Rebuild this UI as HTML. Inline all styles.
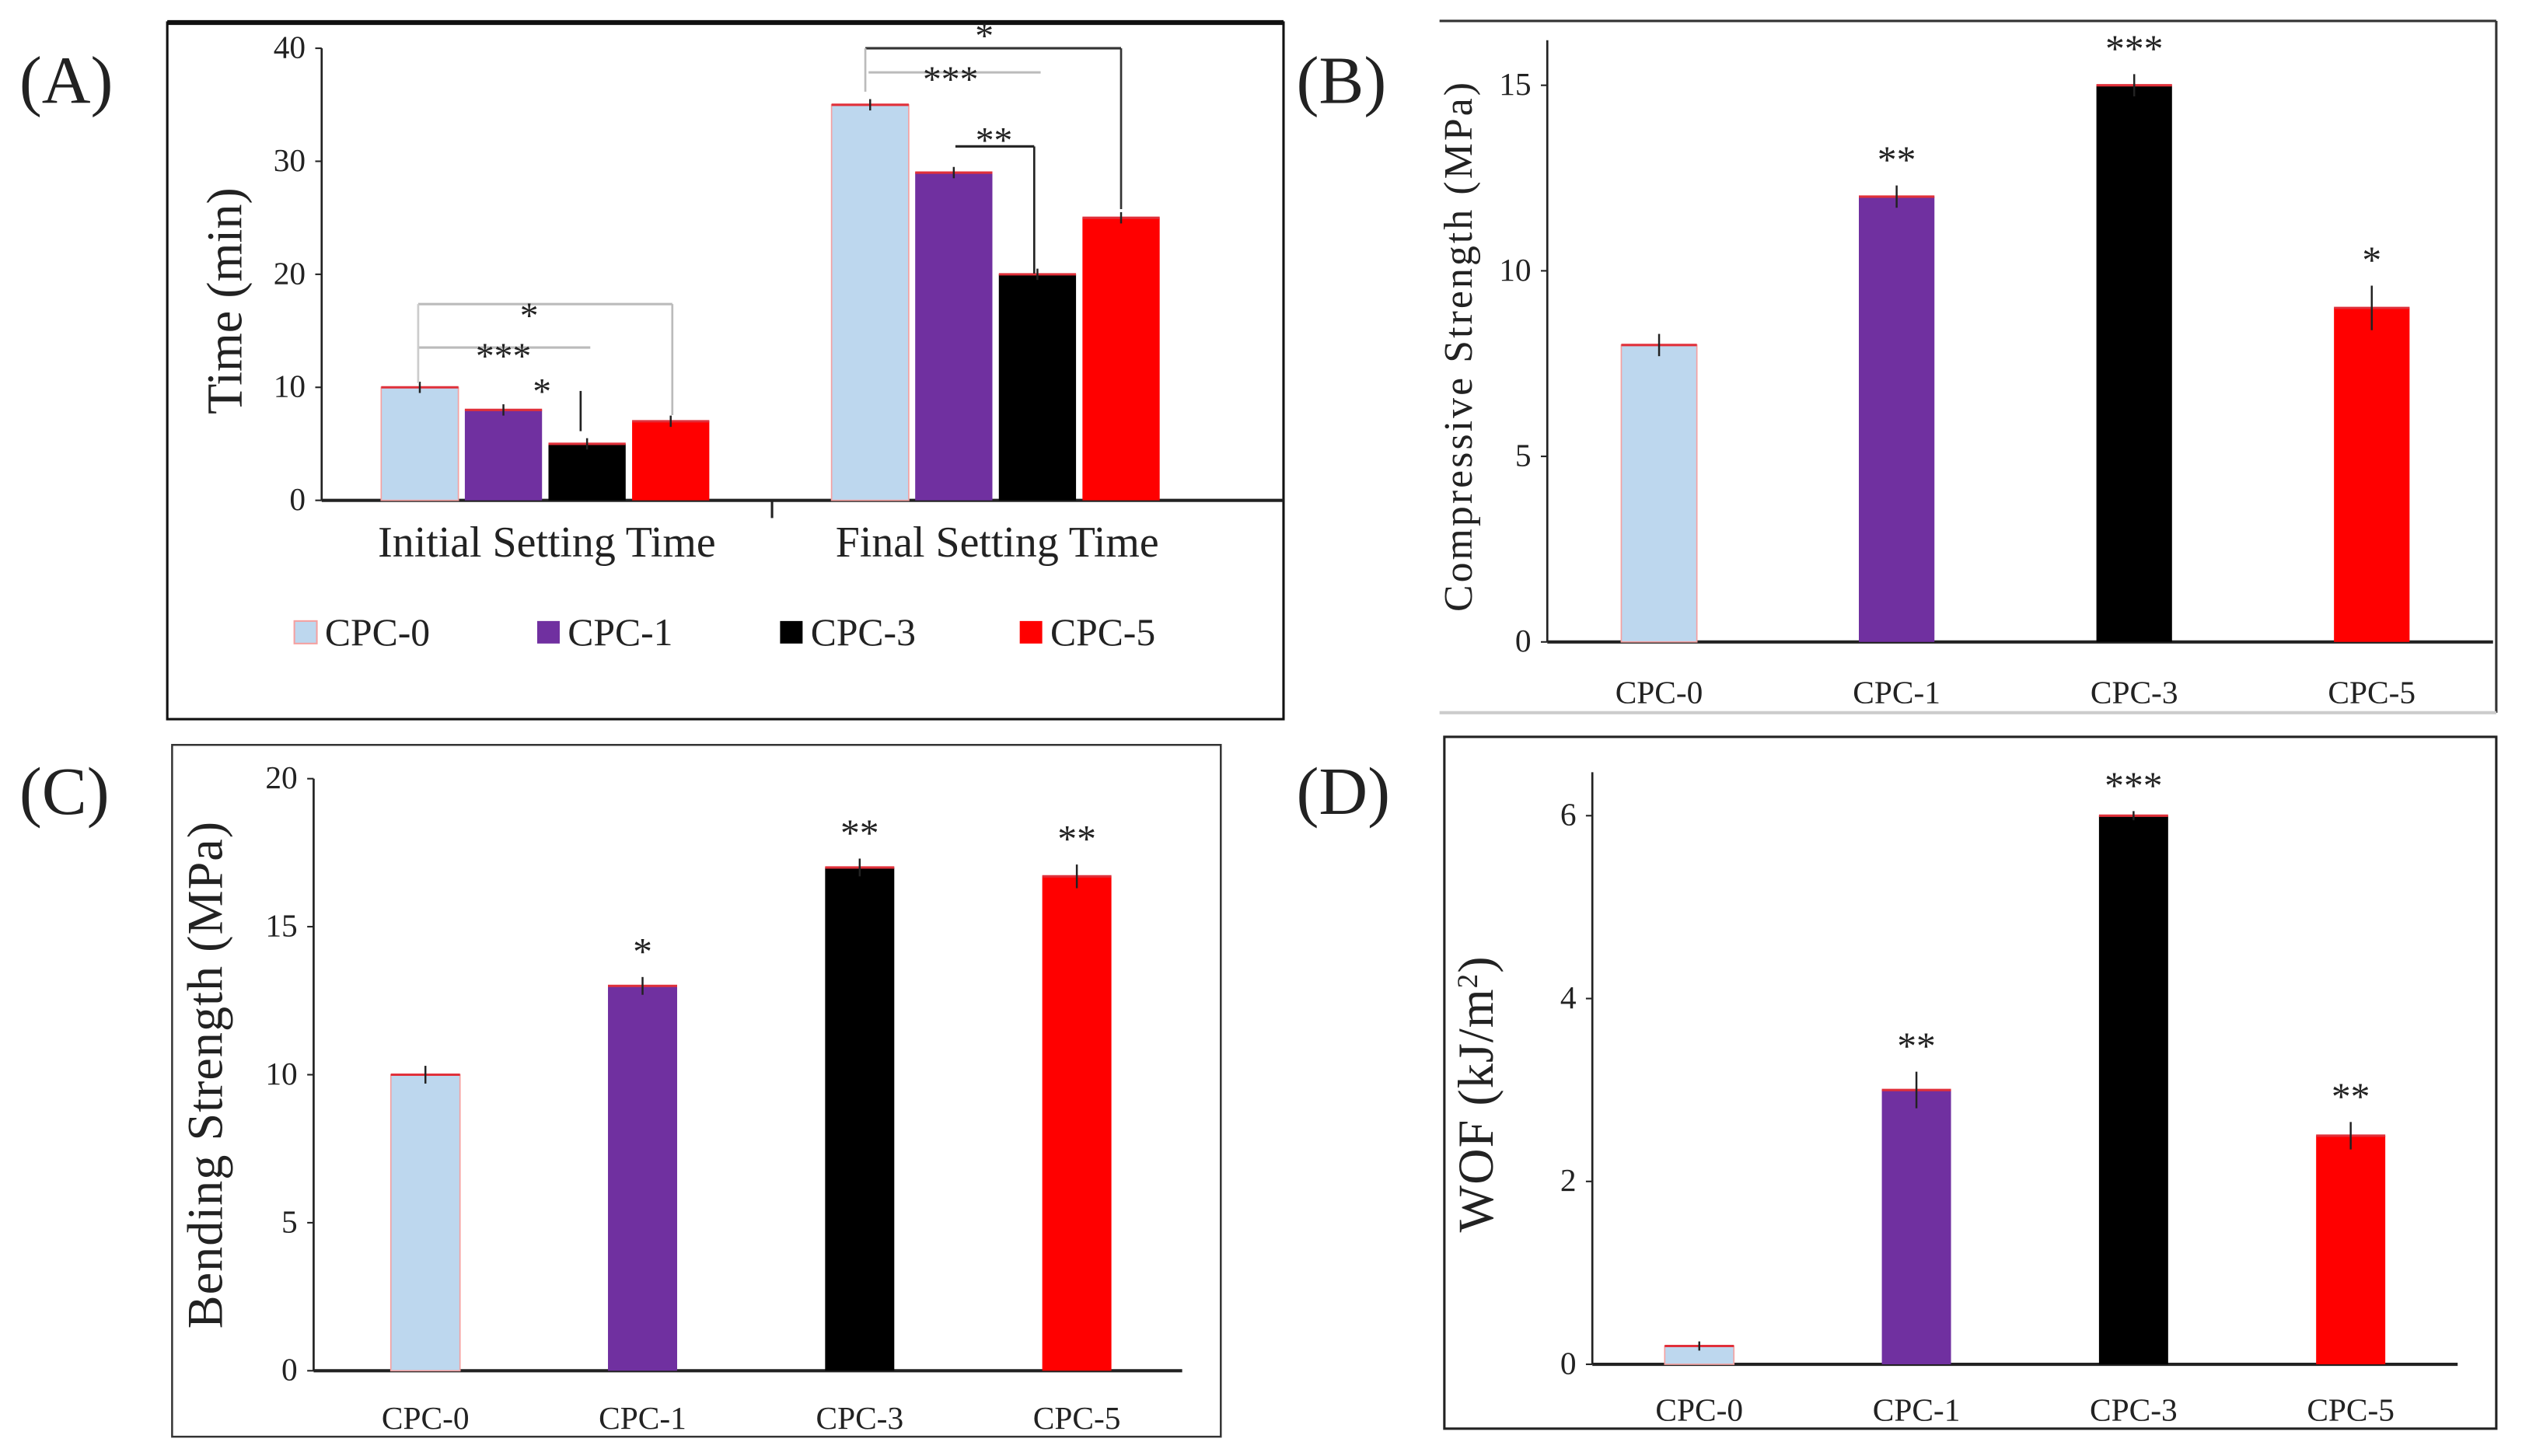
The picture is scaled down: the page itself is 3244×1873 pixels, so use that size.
<!DOCTYPE html>
<html><head><meta charset="utf-8"><style>
html,body{margin:0;padding:0;background:#fff}
svg{display:block}
text{font-family:"Liberation Serif",serif;fill:#222}
</style></head><body>
<svg id="fig" width="3244" height="1873" viewBox="0 0 1568 905" preserveAspectRatio="none" xmlns="http://www.w3.org/2000/svg">
<rect x="0" y="0" width="1568" height="905" fill="#fff"/>
<rect x="104" y="14" width="694" height="433" fill="none" stroke="#111" stroke-width="1.5"/>
<line x1="104" y1="14" x2="798" y2="14" stroke="#111" stroke-width="3"/>
<g>
<line x1="895" y1="13" x2="1552" y2="13" stroke="#333" stroke-width="1.5"/>
<line x1="1552" y1="13" x2="1552" y2="443" stroke="#333" stroke-width="1.5"/>
<line x1="895" y1="443" x2="1552" y2="443" stroke="#ccc" stroke-width="2"/>
</g>
<rect x="107" y="463" width="652" height="430" fill="none" stroke="#333" stroke-width="1.2"/>
<rect x="898" y="458" width="654" height="430" fill="none" stroke="#222" stroke-width="1.5"/>
<text x="12" y="64" font-size="42">(A)</text>
<text x="806" y="64" font-size="42">(B)</text>
<text x="12" y="506" font-size="42">(C)</text>
<text x="806" y="506" font-size="42">(D)</text>
<g id="layer"></g>
</svg>
<script>
const groupsA = ["Initial Setting Time", "Final Setting Time"];
const seriesNames = ["CPC-0", "CPC-1", "CPC-3", "CPC-5"];
const initialTimes = [10, 8, 5, 7];
const finalTimes = [35, 29, 20, 25];
const ticksA = [0, 10, 20, 30, 40];
const compressive = [8, 12, 15, 9];
const compressiveErr = [0.3, 0.3, 0.3, 0.6];
const ticksB = [0, 5, 10, 15];
const compressiveStars = ["", "**", "***", "*"];
const bending = [10, 13, 17, 16.7];
const bendingErr = [0.3, 0.3, 0.3, 0.4];
const ticksC = [0, 5, 10, 15, 20];
const bendingStars = ["", "*", "**", "**"];
const wof = [0.2, 3, 6, 2.5];
const wofErr = [0.05, 0.2, 0.05, 0.15];
const ticksD = [0, 2, 4, 6];
const wofStars = ["", "**", "***", "**"];

const colors = ["#bdd7ee", "#7030a0", "#000000", "#ff0000"];
const NS = "http://www.w3.org/2000/svg";
const layer = document.getElementById("layer");
function mk(tag, attrs, parent) {
  const e = document.createElementNS(NS, tag);
  for (const k in attrs) e.setAttribute(k, attrs[k]);
  (parent || layer).appendChild(e);
  return e;
}
function txt(s, attrs, parent) { const t = mk("text", attrs, parent); t.textContent = s; return t; }
function scaleY(y0, yTop, vmax) { return v => y0 - (v / vmax) * (y0 - yTop); }

function yAxis(ax, y, ticks, x0, xEnd, yTopLine, fs, name) {
  let l = mk("line", {x1: ax, y1: y(0), x2: ax, y2: yTopLine, stroke: "#222", "stroke-width": 1.3});
  
  
  l = mk("line", {x1: x0, y1: y(0), x2: xEnd, y2: y(0), stroke: "#222", "stroke-width": 2});
  
  
  ticks.forEach(t => {
    const tl = txt(String(t), {x: ax - 10, y: y(t) + 6, "font-size": fs, "text-anchor": "end"});
    
    
    const tk = mk("line", {x1: ax - 4, y1: y(t), x2: ax, y2: y(t), stroke: "#222", "stroke-width": 1});
    
    
  });
}
function bar(x, w, v, y, color, name) {
  const r = mk("rect", {x: x, y: y(v), width: w, height: y(0) - y(v), fill: color, stroke: color === "#bdd7ee" ? "#f4a0a0" : "none", "stroke-width": 0.8});
  
  
  const cap = mk("line", {x1: x, y1: y(v), x2: x + w, y2: y(v), stroke: "#e0303a", "stroke-width": 1.5});
  
  
}
function errBar(cx, v, e, y, name) {
  const l = mk("line", {x1: cx, y1: y(v + e), x2: cx, y2: y(v - e), stroke: "#222", "stroke-width": 1.2});
  
  
}

(function () {
  const y = scaleY(311, 30, 40);
  yAxis(200, y, ticksA, 200, 798, 30, 20, "panel-a");
  const tk = mk("line", {x1: 480, y1: 311, x2: 480, y2: 322, stroke: "#222", "stroke-width": 1.5});
  
  
  const starts = [237, 517];
  [initialTimes, finalTimes].forEach((vals, g) => {
    vals.forEach((v, i) => {
      const x = starts[g] + i * 52;
      bar(x, 48, v, y, colors[i], "bar-" + (g ? "final" : "initial") + "-" + seriesNames[i].toLowerCase());
      errBar(x + 24, v, 0.5, y, "panel-a-error-bar");
    });
    const gl = txt(groupsA[g], {x: starts[g] + 103, y: 346, "font-size": 27, "text-anchor": "middle"});
    
    
  });
  const yt = txt("Time (min)", {x: 0, y: 0, "font-size": 31, "text-anchor": "middle", transform: "translate(150,187) rotate(-90)"});
  
  
  const sig = [
    [260, 418, 189, "#bbb", "*", 329, 204],
    [260, 367, 216, "#bbb", "***", 313, 229],
    [538, 697, 30, "#333", "*", 612, 30],
    [540, 647, 45, "#bbb", "***", 591, 57],
    [594, 643, 91, "#222", "**", 618, 95]
  ];
  sig.forEach(s => {
    const l = mk("line", {x1: s[0], y1: s[2], x2: s[1], y2: s[2], stroke: s[3], "stroke-width": 1.5});
    
    
    const t = txt(s[4], {x: s[5], y: s[6], "font-size": 23, "text-anchor": "middle"});
    
    
  });
  [[697, 30, 130, "#333"], [643, 91, 170, "#222"], [538, 30, 57, "#bbb"], [418, 189, 258, "#bbb"], [260, 189, 238, "#ccc"], [361, 243, 268, "#222"]].forEach(v => {
    const l = mk("line", {x1: v[0], y1: v[1], x2: v[0], y2: v[2], stroke: v[3], "stroke-width": 1.3});
    
    
  });
  const st = txt("*", {x: 337, y: 251, "font-size": 23, "text-anchor": "middle"});
  
  
  const lx = [183, 334, 485, 634];
  seriesNames.forEach((n, i) => {
    const sw = mk("rect", {x: lx[i], y: 386, width: 14, height: 14, fill: colors[i], stroke: i === 0 ? "#f4a0a0" : "none"});
    
    
    const t = txt(n, {x: lx[i] + 19, y: 401, "font-size": 24});
    
    
  });
})();

function panel(name, vals, errs, stars, ticks, vmax, ax, y0, yTop, axisTop, xEnd, barStarts, bw, labelY, title, titleX, titleY, titleFs, ls) {
  const y = scaleY(y0, yTop, vmax);
  yAxis(ax, y, ticks, ax, xEnd, axisTop, 20, name);
  vals.forEach((v, i) => {
    const x = barStarts[0] + i * barStarts[1];
    bar(x, bw, v, y, colors[i], name + "-bar-" + seriesNames[i].toLowerCase());
    errBar(x + bw / 2, v, errs[i], y, name + "-error-bar");
    const l = txt(seriesNames[i], {x: x + bw / 2, y: labelY, "font-size": 20, "text-anchor": "middle"});
    
    
    if (stars[i]) {
      const s = txt(stars[i], {x: x + bw / 2, y: y(v + errs[i]) - 8, "font-size": 24, "text-anchor": "middle"});
      
      
    }
  });
  const t = mk("text", {x: 0, y: 0, "font-size": titleFs, "letter-spacing": ls, "text-anchor": "middle", transform: "translate(" + titleX + "," + titleY + ") rotate(-90)"});
  t.innerHTML = title;
  
  
}
panel("panel-b", compressive, compressiveErr, compressiveStars, ticksB, 15, 962, 399, 53, 25, 1550, [1008, 147.7], 47, 437, "Compressive Strength (MPa)", 915, 215, 25, 1.5);
panel("panel-c", bending, bendingErr, bendingStars, ticksC, 20, 195, 852, 484, 484, 735, [243, 135], 43, 888, "Bending Strength (MPa)", 138, 668, 31, 0.5);
panel("panel-d", wof, wofErr, wofStars, ticksD, 6, 990, 848, 507, 480, 1528, [1035, 135], 43, 883, 'WOF (kJ/m<tspan baseline-shift="super" font-size="18">2</tspan>)', 928, 680, 31, 0.5);
</script>
</body></html>
